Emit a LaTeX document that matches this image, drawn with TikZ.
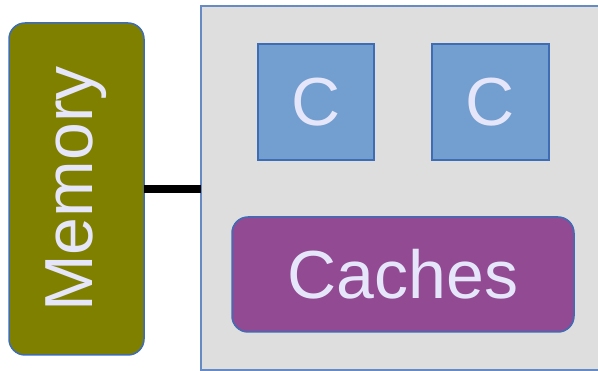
\documentclass[tikz,border=0pt]{standalone}
\usepackage{fontspec}
\setmainfont{Liberation Sans}
\definecolor{olivefill}{HTML}{808000}
\definecolor{edgeblue}{HTML}{3F6DB5}
\definecolor{chipgrey}{HTML}{DEDEDE}
\definecolor{corefill}{HTML}{729FCF}
\definecolor{cachefill}{HTML}{924A92}
\definecolor{lav}{HTML}{E6E6FA}
\begin{document}
\begin{tikzpicture}[x=1pt,y=-1pt,
  lbl/.style={text=lav,font=\fontsize{68}{70}\selectfont},
  membox/.style={draw=edgeblue,line width=1.5pt,fill=olivefill,rounded corners=16pt},
  chipbox/.style={draw=edgeblue!80,line width=1.5pt,fill=chipgrey},
  corebox/.style={draw=edgeblue,line width=1.5pt,fill=corefill},
  cachebox/.style={draw=edgeblue,line width=1.5pt,fill=cachefill,rounded corners=16pt},
  link/.style={line width=8pt,black}]
\useasboundingbox (0,0) rectangle (598,371);
\begin{scope}
\clip (0,0) rectangle (598,371);
\draw[chipbox] (201,6) rectangle (640,370);
\end{scope}
\draw[membox] (9,23) rectangle (144,355);
\node[lbl,rotate=90] (mem) at (76.5,189) {Memory};
\coordinate (memr) at (144,189);
\coordinate (chipl) at (201,189);
\draw[link] (memr) -- (chipl);
\draw[corebox] (258,44) rectangle (374,160);
\node[lbl] (c1) at (316,102) {C};
\draw[corebox] (432,44) rectangle (549,160);
\node[lbl] (c2) at (490.5,102) {C};
\draw[cachebox] (232,217) rectangle (574,332);
\node[lbl] (caches) at (403,274.5) {Caches};
\end{tikzpicture}
\end{document}
